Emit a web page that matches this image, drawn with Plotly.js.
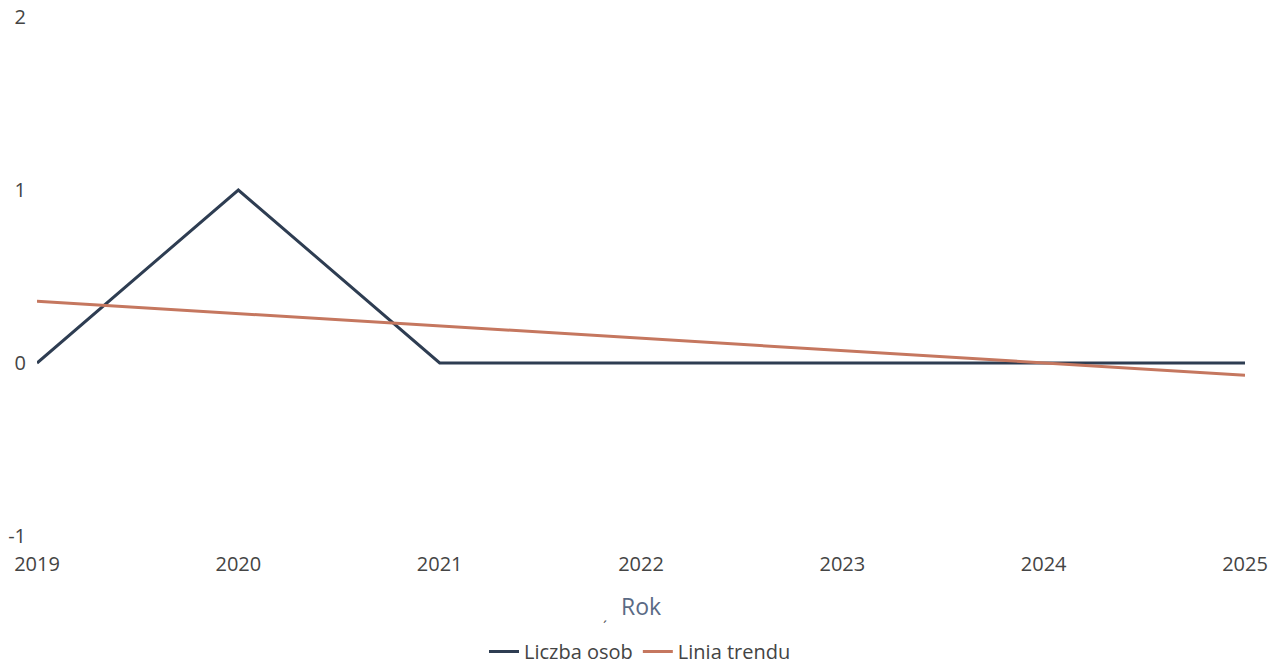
<!DOCTYPE html>
<html>
<head>
<meta charset="utf-8">
<script src="https://cdn.plot.ly/plotly-3.0.1.min.js"></script>
<style>html,body{margin:0;padding:0;background:#fff;}#chart{width:1280px;height:671px;}</style>
</head>
<body>
<div id="chart"></div>
<script>
const years = [2019, 2020, 2021, 2022, 2023, 2024, 2025];
const liczbaOsob = [0, 1, 0, 0, 0, 0, 0];
const liniaTrendu = [0.357, 0.286, 0.214, 0.143, 0.071, 0.0, -0.071];
const seriesNames = ["Liczba osob", "Linia trendu"];
const yTicks = [-1, 0, 1, 2];
const yTickText = ["-1", "0", "1", "2"];

const traces = [
  {x: years, y: liczbaOsob, name: seriesNames[0], type: 'scatter', mode: 'lines',
   line: {color: '#2e3d52', width: 3}},
  {x: years, y: liniaTrendu, name: seriesNames[1], type: 'scatter', mode: 'lines',
   line: {color: '#c5775f', width: 3}}
];
const layout = {
  width: 1280, height: 671,
  margin: {l: 37, r: 35, t: 17, b: 135},
  paper_bgcolor: '#ffffff', plot_bgcolor: '#ffffff',
  font: {family: 'Open Sans, sans-serif', size: 20, color: '#444'},
  showlegend: true,
  legend: {orientation: 'h', x: 0.5, xanchor: 'center', xref: 'container',
           y: 0, yanchor: 'bottom', yref: 'container', itemwidth: 30,
           font: {size: 20, color: '#444'}},
  xaxis: {range: [2019, 2025], tickvals: years, showgrid: false, zeroline: false,
          showline: false, ticks: '', ticklabelstandoff: 14, tickfont: {size: 20, color: '#444'},
          title: {text: 'Rok', font: {size: 23, color: '#5a6a85'}, standoff: 22}},
  yaxis: {range: [-1, 2], tickvals: yTicks, ticktext: yTickText, showgrid: false, zeroline: false,
          showline: false, ticks: '', ticklabelstandoff: 10, tickfont: {size: 20, color: '#444'}},
  annotations: [
    {text: '\u00b4', xref: 'paper', yref: 'paper', x: 0.4705, y: -0.197, yanchor: 'bottom',
     showarrow: false, font: {size: 14, color: '#444'}}
  ]
};
Plotly.newPlot('chart', traces, layout, {displayModeBar: false});
</script>
</body>
</html>
